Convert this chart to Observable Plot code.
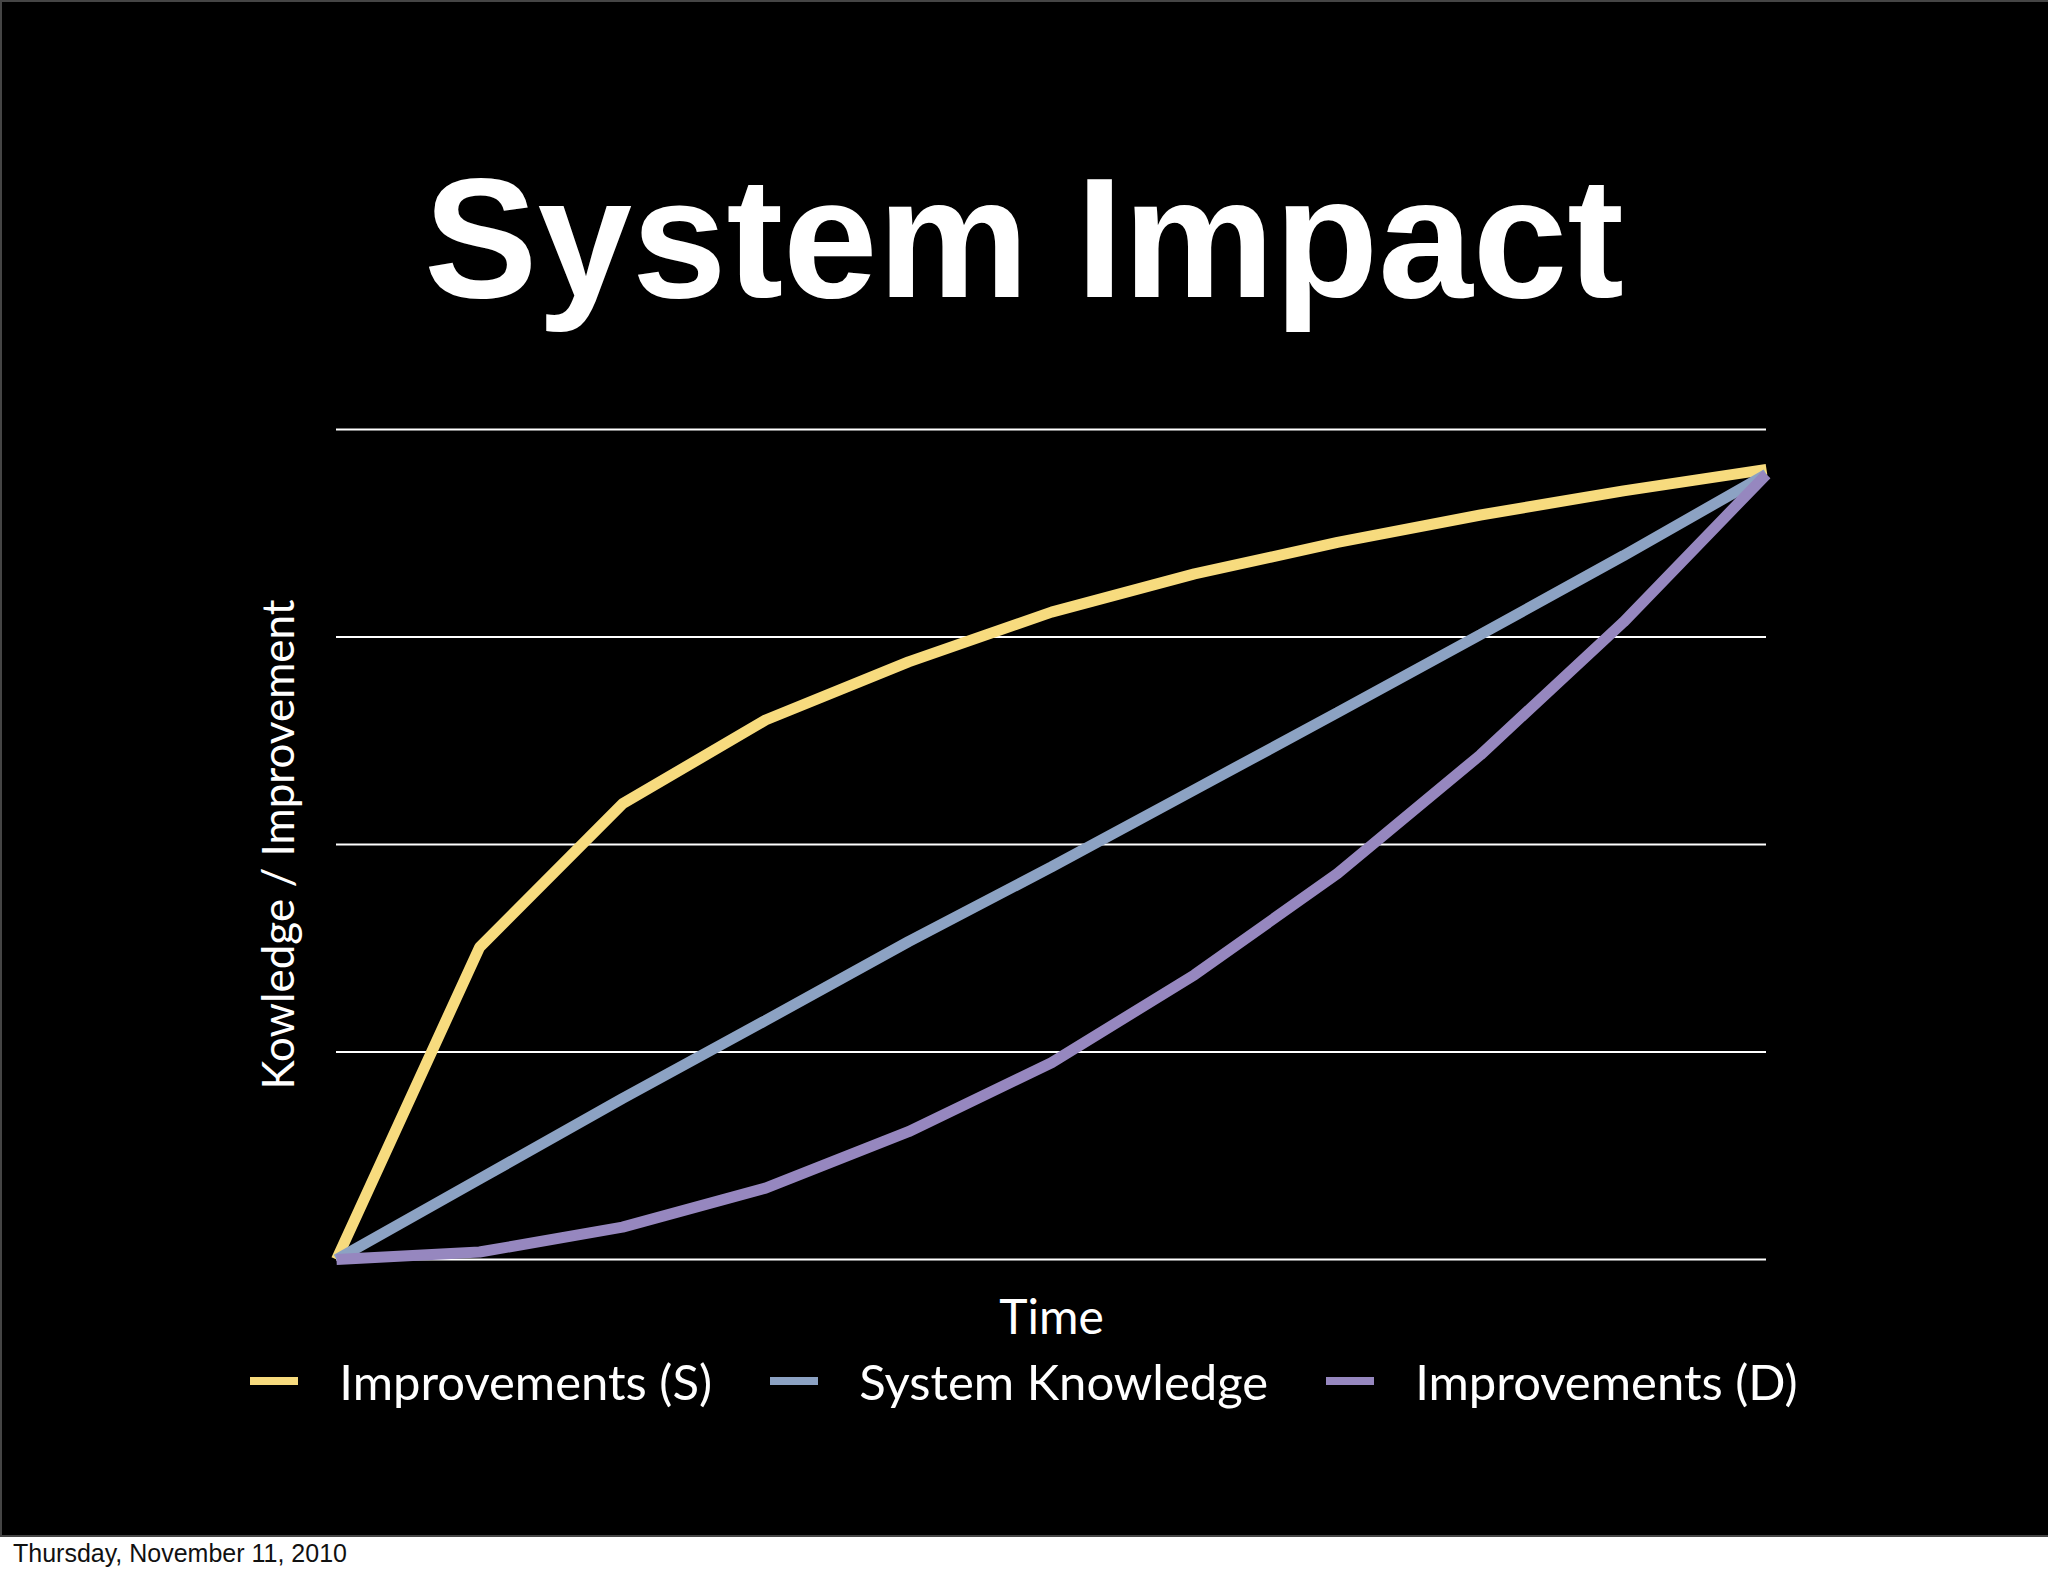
<!DOCTYPE html>
<html>
<head>
<meta charset="utf-8">
<script src="https://cdn.jsdelivr.net/npm/d3@7"></script>
<script src="https://cdn.jsdelivr.net/npm/@observablehq/plot@0.6"></script>
<style>
html, body { margin: 0; padding: 0; background: #fff; }
body { width: 2048px; height: 1576px; position: relative; overflow: hidden; }
#slide { position: absolute; left: 0; top: 0; width: 2048px; height: 1537px; box-sizing: border-box; background: #000; border: 2px solid #454545; border-right: none; }
#title { position: absolute; left: 0; top: 153px; width: 2048px; margin: 0; text-align: center; font: bold 170px/170px "Liberation Sans", Arial, sans-serif; color: #fff; }
#chart { position: absolute; left: 0; top: 0; }
#legend { position: absolute; left: 0; top: 1352px; width: 2048px; display: flex; justify-content: center; }
#date { position: absolute; left: 13px; top: 1541px; font: 25px/25px "Liberation Sans", Arial, sans-serif; color: #111; }
.lg-swatches { margin: 0 !important; }
.lg-swatch { margin-right: 58px !important; }
.lg-swatch:last-child { margin-right: 0 !important; }
.lg-swatch > svg { margin-right: 41px !important; }
</style>
</head>
<body>
<div id="slide"></div>
<div id="title">System Impact</div>
<div id="chart"></div>
<div id="legend"></div>
<div id="date">Thursday, November 11, 2010</div>
<script>
// Data
const time = [0, 1, 2, 3, 4, 5, 6, 7, 8, 9, 10];
const improvementsS = [0, 37.6, 54.9, 65.0, 72.0, 78.0, 82.6, 86.4, 89.7, 92.6, 95.2];
const systemKnowledge = [0, 9.7, 19.4, 28.8, 38.3, 47.3, 56.6, 65.9, 75.3, 84.8, 94.6];
const improvementsD = [0, 0.9, 3.9, 8.6, 15.4, 23.7, 34.3, 46.5, 60.8, 76.8, 94.6];
const seriesNames = ["Improvements (S)", "System Knowledge", "Improvements (D)"];
const seriesColors = ["#f7db7e", "#8ca2c3", "#9687bf"];
const yTicks = [0, 25, 50, 75, 100];
const xLabel = "Time";
const yLabel = "Kowledge / Improvement";

const seriesValues = [improvementsS, systemKnowledge, improvementsD];
const rows = [];
seriesValues.forEach((vals, i) => vals.forEach((v, j) => rows.push({series: seriesNames[i], time: time[j], value: v})));

const chart = Plot.plot({
  width: 2048,
  height: 1536,
  marginLeft: 336,
  marginRight: 282,
  marginTop: 429,
  marginBottom: 277,
  style: {background: "transparent", color: "#fff", overflow: "visible"},
  x: {domain: [0, 10], axis: null},
  y: {domain: [0, 100], axis: null},
  color: {domain: seriesNames, range: seriesColors},
  marks: [
    Plot.gridY(yTicks, {stroke: "#fff", strokeOpacity: 1, strokeWidth: 2}),
    Plot.line(rows, {x: "time", y: "value", z: "series", stroke: "series", strokeWidth: 11, strokeLinejoin: "miter", strokeLinecap: "butt"}),
    Plot.text([yLabel], {text: d => d, frameAnchor: "left", textAnchor: "middle", lineAnchor: "middle", rotate: -90, dx: -57, dy: 0, fontSize: 44, fontFamily: "Lato", fill: "#fff"}),
    Plot.text([xLabel], {text: d => d, frameAnchor: "bottom", textAnchor: "middle", lineAnchor: "middle", dy: 59, fontSize: 48, fontFamily: "Lato", fill: "#fff"})
  ]
});
document.getElementById("chart").appendChild(chart);

const legend = Plot.legend({
  color: {domain: seriesNames, range: seriesColors},
  legend: "swatches",
  swatchWidth: 48,
  swatchHeight: 8,
  className: "lg",
  style: {fontSize: "49px", fontFamily: "Lato", color: "#fff", background: "transparent"}
});
document.getElementById("legend").appendChild(legend);
</script>
</body>
</html>
